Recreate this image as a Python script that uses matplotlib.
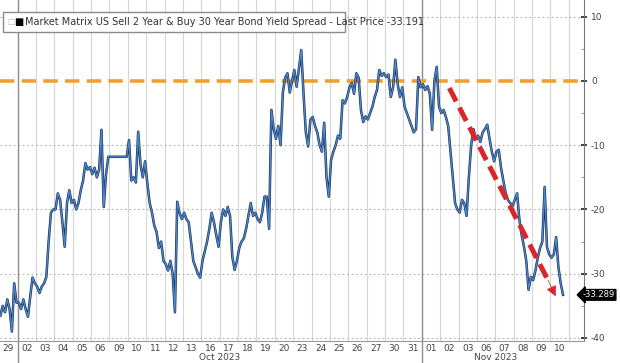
import matplotlib.pyplot as plt
import matplotlib.transforms as mtransforms
from matplotlib.patches import Rectangle
import numpy as np

plt.rcParams['font.family'] = ['Liberation Sans Narrow', 'DejaVu Sans']

# trading days shown on the axis
day_labels = ['29', '02', '03', '04', '05', '06', '09', '10', '11', '12', '13',
              '16', '17', '18', '19', '20', '23', '24', '25', '26', '27', '30',
              '31', '01', '02', '03', '06', '07', '08', '09', '10']

# intraday readings of the spread (bp), 8 per day
spread = [
    [-36.5, -35, -36, -34, -35.5, -39, -31.5, -34.5],        # Sep 29
    [-34.5, -35.5, -34, -35.5, -36.7, -33.5, -30.6, -31.5],  # Oct 02
    [-32, -33, -32, -31.5, -30.5, -25, -20.5, -20],          # 03
    [-20, -17.5, -18.5, -22, -25.8, -19, -17, -19],          # 04
    [-18.5, -20, -19, -17, -15.5, -12.8, -13.8, -13.4],      # 05
    [-14.5, -13.5, -15, -13.8, -7.6, -19.6, -14.5, -11.8],   # 06
    [-11.8, -11.8, -11.8, -11.8, -11.8, -11.8, -11.8, -11.8],# 09 (holiday)
    [-9.2, -15.5, -15, -15.8, -7.9, -13, -15, -12.5],        # 10
    [-16, -19, -20.5, -22.5, -23.5, -26, -25, -28],          # 11
    [-28.5, -29.5, -28, -30, -36, -18.8, -20.5, -21.5],      # 12
    [-20.5, -21.5, -22, -25, -28, -29, -30, -30.6],          # 13
    [-28, -26.5, -25, -23, -20.5, -22, -24, -25.8],          # 16
    [-22, -20, -21, -19.6, -21, -27.4, -29.4, -28],          # 17
    [-26, -25, -24.5, -23, -21, -19, -21, -20.5],            # 18
    [-21.5, -22, -20.5, -18, -18, -23, -4.5, -7.5],          # 19
    [-9, -7, -10, -1.8, 0.5, 1.2, -1.8, 0],                  # 20
    [1.7, -0.9, 2, 4.8, -2, -8, -10.2, -6],                  # 23
    [-5.6, -7, -8, -10, -11, -6.5, -15, -18],                # 24
    [-12.3, -11, -10, -8.5, -9, -3, -3.5, -2.5],             # 25
    [-1, -0.3, -2, 1.2, 0.5, -4.5, -6.4, -5.5],              # 26
    [-6, -5, -4, -2.5, -1.4, 1.7, 0.8, 1.2],                 # 27
    [0.6, 1, -2.5, -1, 3.3, -0.5, -2.5, -1],                 # 30
    [-4, -5, -6, -7, -8, -7.5, 0.6, -1],                     # 31
    [-0.5, -1.4, -0.8, -2, -7.6, 0, 2.2, -4],                # Nov 01
    [-5, -4.5, -5.6, -7, -11, -15, -19, -20],                # 02
    [-20.5, -18.5, -19, -21, -15, -10, -7.5, -9],            # 03
    [-8.5, -9.5, -8, -7.5, -6.8, -9, -11, -12.5],            # 06
    [-11, -10.7, -13.5, -15.5, -17.4, -18.5, -19, -19.5],    # 07
    [-18.5, -17.5, -21.6, -24, -25.8, -28, -32.5, -30.5],    # 08
    [-31, -29.5, -27.5, -26, -25, -16.5, -25.8, -27],        # 09
    [-27.5, -27, -24.3, -29, -31.5, -33.289],                # 10
]
last_price = -33.289
legend_text = 'Market Matrix US Sell 2 Year & Buy 30 Year Bond Yield Spread - Last Price -33.191'

xs, ys = [], []
for k, day in enumerate(spread):
    for j, v in enumerate(day):
        xs.append(k - 0.5 + (j + 0.5) / 8)
        ys.append(v)

fig = plt.figure(figsize=(6.2, 3.63), dpi=100)
ax = fig.add_axes([0, 22 / 363, 584 / 620, 341 / 363])
ax.set_xlim(-0.46, 31.33)
ax.set_ylim(-40.47, 12.6)

# grid
for b in np.arange(0.5, 31, 1):
    if b in (0.5, 22.5):
        ax.axvline(b, ymin=-0.066, ymax=1, color='#8c8c8c', lw=1.0, clip_on=False, zorder=1)
    else:
        ax.axvline(b, color='#d6d6d6', lw=0.8, zorder=0)
for yv in [10, -10, -20, -30, -40]:
    ax.axhline(yv, color='#b0b0b0', lw=0.8, ls=(0, (1.5, 2.5)), zorder=0)

# zero line
ax.axhline(0, color='#f0a030', lw=2.6, ls=(0, (4, 2)), zorder=2)

# series
ax.plot(xs, ys, color='#1c2d4e', lw=1.8, zorder=3)
ax.plot(xs, ys, color='#4a8ad2', lw=0.9, zorder=4)

# red trend arrow
ax.plot([24.0, 29.35], [-1.1, -30.9], color='#d9262c', lw=3.6,
        ls=(0, (3, 1.4)), solid_capstyle='butt', zorder=5)
ax.annotate('', xy=(29.85, -33.9), xytext=(29.3, -30.6),
            arrowprops=dict(arrowstyle='-|>', color='#d9262c', lw=0.5,
                            mutation_scale=16), zorder=6)

# axes styling
for s in ['left', 'top']:
    ax.spines[s].set_visible(False)
ax.spines['right'].set_color('#777777')
ax.spines['bottom'].set_color('#999999')
ax.yaxis.tick_right()
ax.set_yticks([-40, -30, -20, -10, 0, 10])
ax.set_yticklabels(['-40', '-30', '-20', '-10', '0', '10'])
ax.set_yticks(np.arange(-35, 10, 10), minor=True)
ax.tick_params(axis='y', which='major', direction='inout', length=4, width=1.2,
               color='#222222', labelsize=6.5, labelcolor='#444444', pad=3)
ax.tick_params(axis='y', which='minor', direction='in', length=2, color='#888888')
ax.set_xticks(range(len(day_labels)))
ax.set_xticklabels(day_labels)
ax.tick_params(axis='x', length=0, labelsize=6.5, labelcolor='#444444', pad=2)

trans = mtransforms.blended_transform_factory(ax.transData, ax.transAxes)
ax.text(11.5, -0.047, 'Oct 2023', transform=trans, ha='center', va='center',
        fontsize=6.5, color='#444444')
ax.text(26.5, -0.047, 'Nov 2023', transform=trans, ha='center', va='center',
        fontsize=6.5, color='#444444')

# last price tag, right-aligned inside the figure
trans_y = mtransforms.blended_transform_factory(fig.transFigure, ax.transData)
ax.text(0.992, last_price, '%.3f' % last_price, transform=trans_y, ha='right', va='center',
        fontsize=6, color='white', clip_on=False,
        bbox=dict(boxstyle='larrow,pad=0.1', fc='black', ec='black'))

# legend box
ax.add_patch(Rectangle((0.005, 0.906), 0.586, 0.06, transform=ax.transAxes,
                       fc='white', ec='#8a8a8a', lw=1.0, zorder=7))
ax.text(0.012, 0.936, '\u25a1', transform=ax.transAxes, va='center', ha='left',
        fontsize=6, color='#bbbbbb', zorder=8)
ax.text(0.024, 0.936, '\u25a0', transform=ax.transAxes, va='center', ha='left',
        fontsize=7, color='black', zorder=8)
ax.text(0.043, 0.936, legend_text, transform=ax.transAxes, va='center', ha='left',
        fontsize=7, color='#333333', zorder=8)

fig.savefig('out.png', dpi=100)
